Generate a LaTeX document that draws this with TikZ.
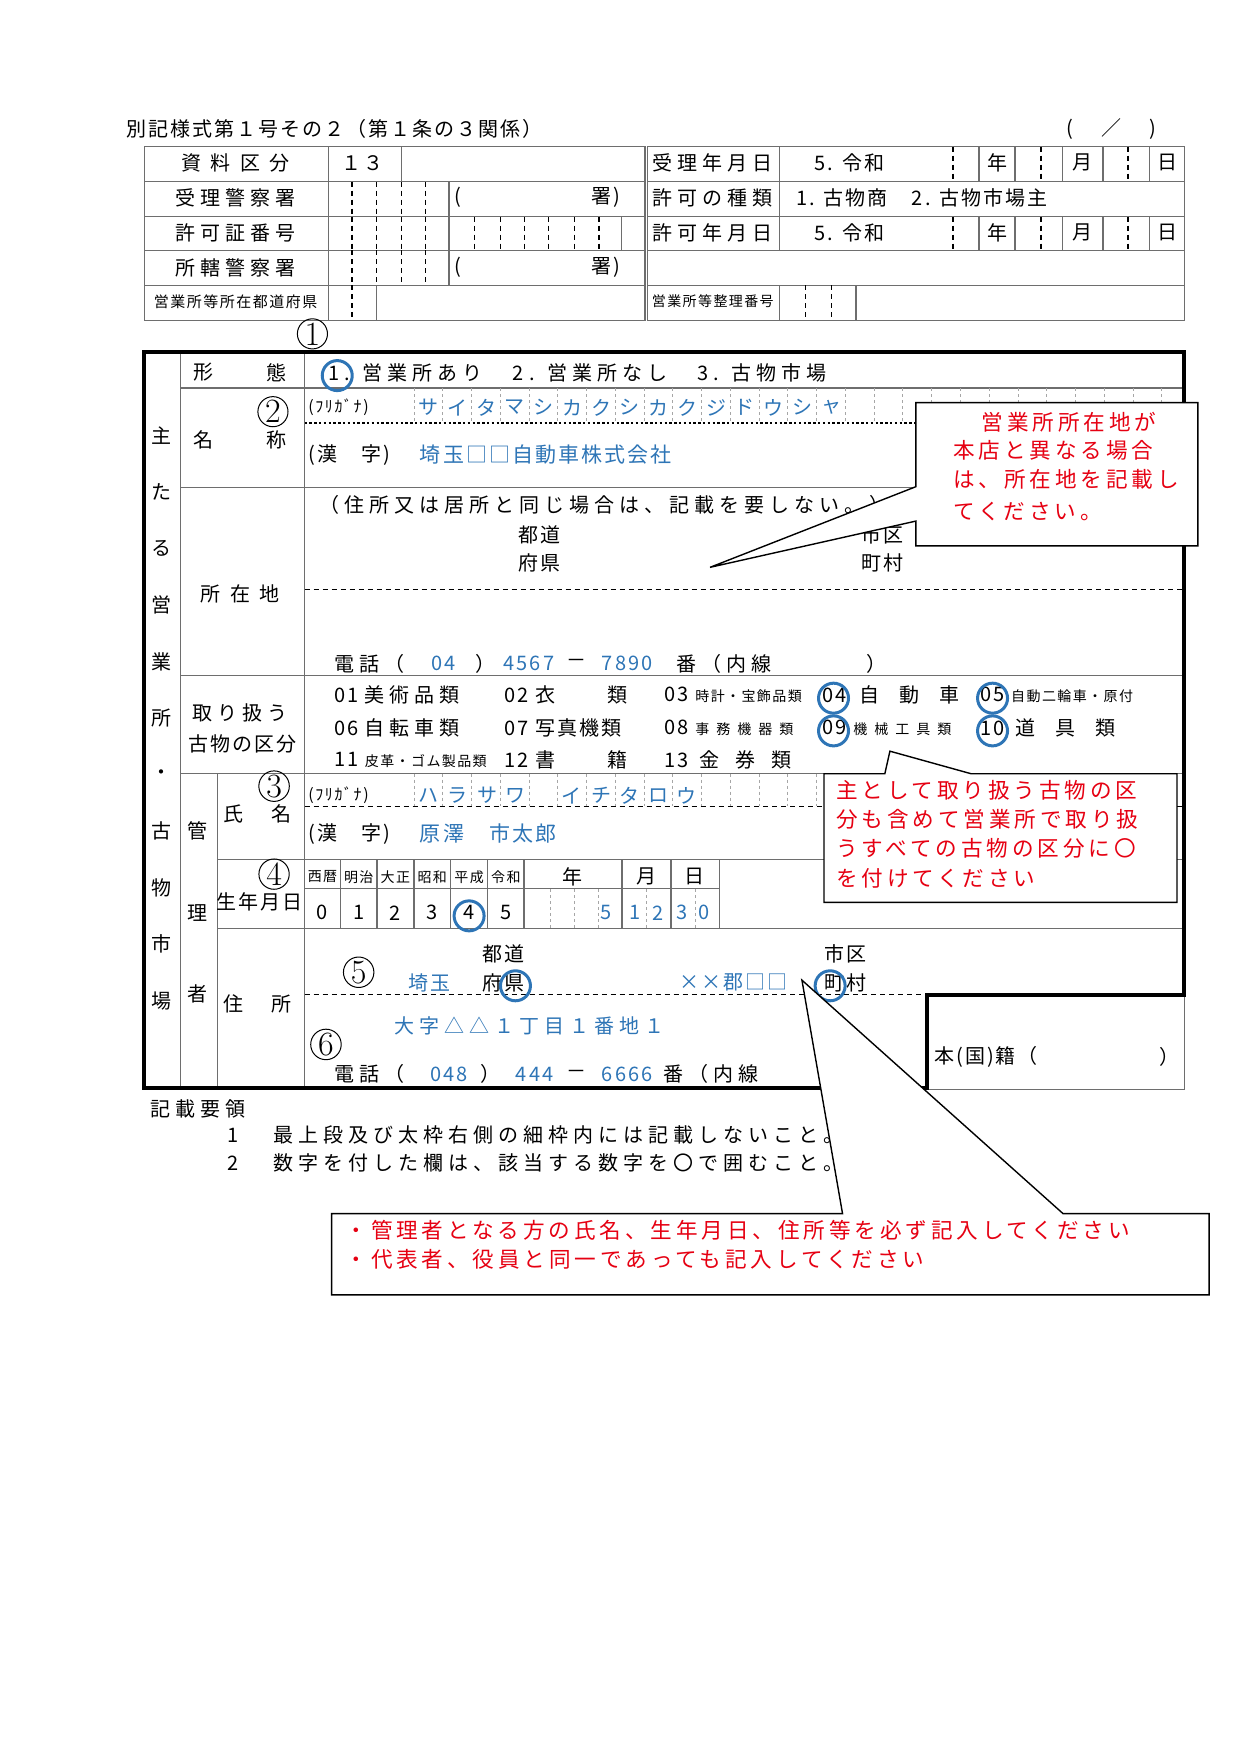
\documentclass[tikz,border=0pt]{standalone}
\usepackage{fontspec}
\setmainfont{Noto Sans CJK JP}
\newfontfamily\jpsp{Noto Sans CJK JP}[LetterSpace=25]
\newfontfamily\jpsm{Noto Sans CJK JP}[LetterSpace=10]
\newfontfamily\jpnote{Noto Sans CJK JP}[LetterSpace=18]
\definecolor{fillblue}{RGB}{46,117,182}
\definecolor{notered}{RGB}{230,0,18}
\definecolor{gridgray}{RGB}{110,110,110}
\tikzset{
  grid/.style={draw=gridgray, line width=0.7pt},
  dgrid/.style={draw=black, dash pattern=on 2.5pt off 2pt, line width=0.6pt},
  kana/.style={draw=gray!70, dash pattern=on 1.5pt off 1.5pt, line width=0.4pt},
  heavy/.style={draw=black, line width=2pt},
  lbl/.style={inner sep=0pt, yshift=1.5pt},
  txt/.style={inner sep=0pt, anchor=west, yshift=1.5pt},
  fill in/.style={txt, text=fillblue},
  ring/.style={circle, draw=fillblue, line width=1.5pt, minimum size=15pt, inner sep=0pt},
  num/.style={circle, draw, line width=0.5pt, inner sep=0.5pt, font=\fontspec{Latin Modern Roman}\fontsize{17}{17}\selectfont},
  note/.style={draw=black, line width=0.7pt, fill=white},
  notetext/.style={txt, text=notered, font=\jpnote\fontsize{10.8}{13}\selectfont}
}
\begin{document}
\begin{tikzpicture}[x=0.564pt, y=-0.564pt, font=\jpsm\fontsize{10}{12}\selectfont]
\useasboundingbox (0,0) rectangle (1100,1556);
% title
\node[txt] (title) at (112,117) {別記様式第１号その２（第１条の３関係）};
\node[txt] (slash) at (945,117) {(\hspace{14pt}／\hspace{14pt})};
% upper table
\draw[grid] (128,130) rectangle (572,284) (574,130) rectangle (1050,284);
\foreach \y in {161,192,222,253} \draw[grid] (128,\y) -- (572,\y) (574,\y) -- (1050,\y);
\draw[grid] (291,130) -- (291,284) (356,130) -- (356,161);
\foreach \y/\z in {161/192,192/222,222/253} {
  \foreach \x in {312,334,356,377} \draw[dgrid] (\x,\y) -- (\x,\z);
  \draw[grid] (398,\y) -- (398,\z);
}
\foreach \x in {421,444,465,486,509,531} \draw[dgrid] (\x,192) -- (\x,222);
\draw[grid] (551,192) -- (551,222);
\draw[dgrid] (312,253) -- (312,284);
\draw[grid] (334,253) -- (334,284);
\draw[grid] (691,130) -- (691,222) (691,253) -- (691,284);
\foreach \y/\z in {130/161,192/222} {
  \foreach \x in {845,923,1000} \draw[dgrid] (\x,\y) -- (\x,\z);
  \foreach \x in {868,900,942,978,1019} \draw[grid] (\x,\y) -- (\x,\z);
}
\draw[dgrid] (714,253) -- (714,284) (737,253) -- (737,284);
\draw[grid] (759,253) -- (759,284);
% upper table texts
\node[lbl] (shiryo) at (209,147) {\jpsp 資 料 区 分};
\node[txt] (kubun) at (302,147) {１３};
\node[lbl] (juri) at (209,178) {\jpsp 受理警察署};
\node[txt] (p1) at (403,178) {(};
\node[txt] (s1) at (524,178) {署)};
\node[lbl] (kyoka) at (209,209) {\jpsp 許可証番号};
\node[lbl] (shokatsu) at (209,240) {\jpsp 所轄警察署};
\node[txt] (p2) at (403,240) {(};
\node[txt] (s2) at (524,240) {署)};
\node[lbl] (todo) at (209,270) {\fontsize{7.5}{9}\selectfont 営業所等所在都道府県};
\node[lbl] (jurid) at (632,147) {\jpsp 受理年月日};
\node[txt] (rw1) at (722,147) {5. 令和};
\node[lbl] (kind) at (632,178) {\jpsp 許可の種類};
\node[txt] (kinds) at (706,178) {1. 古物商　2. 古物市場主};
\node[lbl] (kyokad) at (632,209) {\jpsp 許可年月日};
\node[txt] (rw2) at (722,209) {5. 令和};
\foreach \y/\n in {147/a,209/b} {
  \node[lbl] (nen\n) at (884,\y) {年};
  \node[lbl] (tsuki\n) at (960,\y) {月};
  \node[lbl] (hi\n) at (1035,\y) {日};
}
\node[lbl] (seiri) at (632,270) {\fontsize{7}{9}\selectfont 営業所等整理番号};
\node[num] (c1) at (277,296) {1};
% main frame
\draw[grid] (160,312) -- (160,965) (270,312) -- (270,965) (193,686) -- (193,965);
\foreach \y in {344,432,599,686} \draw[grid] (160,\y) -- (1050,\y);
\foreach \y in {762,823} \draw[grid] (193,\y) -- (1050,\y);
\draw[dgrid, dash pattern=on 1.2pt off 1.2pt, line width=1pt] (270,374.7) -- (1050,374.7);
\draw[dgrid, line width=0.5pt] (270,523) -- (1050,523) (270,715) -- (1050,715) (270,881.5) -- (822,881.5);
\foreach \k in {0,...,26} {
  \draw[kana] (367+25.5*\k,344) -- (367+25.5*\k,374);
  \draw[kana] (367+25.5*\k,686) -- (367+25.5*\k,715);
}
% birth date grid
\foreach \x in {301.8,334.4,366.9,399.6,432.2,551.5,595,638} \draw[grid] (\x,762) -- (\x,823);
\draw[grid, line width=1.2pt] (464.8,762) -- (464.8,823);
\draw[grid] (270,788) -- (638,788);
\foreach \x in {487.6,509,530.6,573,616.7} \draw[kana] (\x,788) -- (\x,823);
\draw[grid] (822,882) rectangle (1050,966);
\draw[heavy] (128,312) -- (1050,312) -- (1050,882) -- (822,882) -- (822,965) -- (128,965) -- cycle;
% side labels
\foreach \c [count=\i] in {主,た,る,営,業,所,・,古,物,市,場}
  \node[lbl] (side\i) at (143,389+50.1*\i-50.1) {\c};
\node[lbl] (kan) at (175,739) {管};
\node[lbl] (ri) at (175,812) {理};
\node[lbl] (sha) at (175,884) {者};
\node[txt] (kei) at (171,333) {形};
\node[txt] (tai) at (236,333) {態};
\node[txt] (mei) at (171,393) {名};
\node[txt] (sho) at (236,393) {称};
\node[lbl] (shozai) at (213,529) {\jpsp 所 在 地};
\node[lbl] (toriatsu) at (213,635) {\jpsp 取り扱う};
\node[lbl] (kobutsu) at (215,662) {古物の区分};
\node[txt] (shi) at (198,724) {氏};
\node[txt] (mei2) at (240,724) {名};
\node[lbl] (seinen) at (230,802) {生年月日};
\node[txt] (ju) at (198,893) {住};
\node[txt] (sho2) at (240,893) {所};
% row contents
\node[txt] (keitai) at (291,333) {\jpsp 1. 営業所あり　2. 営業所なし　3. 古物市場};
\node[ring] (r1) at (299,333) {};
\node[num] (c2) at (242,365) {2};
\node[txt] (furi1) at (273,364) {\fontsize{8}{9}\selectfont (ﾌﾘｶﾞﾅ)};
\foreach \c [count=\i] in {サ,イ,タ,マ,シ,カ,ク,シ,カ,ク,ジ,ド,ウ,シ,ャ}
  \node[lbl, text=fillblue] (kn\i) at (380+25.5*\i-25.5,364) {\c};
\node[txt] (kanji1) at (273,406) {(漢　字)};
\node[fill in] (meisho) at (372,406) {\jpsm\fontsize{10.5}{12}\selectfont 埼玉□□自動車株式会社};
\node[txt] (dou) at (283,450) {\jpsp（住所又は居所と同じ場合は、記載を要しない。）};
\node[lbl] (todo1) at (478,477) {都道};
\node[lbl] (fuken1) at (478,502) {府県};
\node[lbl] (shiku1) at (782,477) {市区};
\node[lbl] (chou1) at (782,502) {町村};
\node[txt] (tel1) at (296,591) {\jpsp 電話（};
\node[lbl, text=fillblue] (t1a) at (393,591) {04};
\node[lbl] (t1b) at (430,591) {）};
\node[lbl, text=fillblue] (t1c) at (469,591) {4567};
\node[lbl] (t1d) at (511,591) {－};
\node[lbl, text=fillblue] (t1e) at (556,591) {7890};
\node[txt] (t1f) at (599,591) {\jpsp 番（内線};
\node[lbl] (t1g) at (777,591) {）};
% categories
\node[txt] (k01) at (296,619) {01 \jpsp 美術品類};
\node[txt] (k02) at (447,619) {02 \jpsp 衣\hspace{2.6em}類};
\node[txt] (k03) at (589,619) {03 \fontsize{7}{8}\selectfont 時計・宝飾品類};
\node[txt] (k04) at (729,619) {04 \hspace{0.3em}自\hspace{1em}動\hspace{1em}車};
\node[txt] (k05) at (869,619) {05 \fontsize{7}{8}\selectfont 自動二輪車・原付};
\node[txt] (k06) at (296,648) {06 \jpsp 自転車類};
\node[txt] (k07) at (447,648) {07 写真機類};
\node[txt] (k08) at (589,648) {08 \fontsize{7}{8}\selectfont 事\hspace{0.5em}務\hspace{0.5em}機\hspace{0.5em}器\hspace{0.5em}類};
\node[txt] (k09) at (729,648) {09 \fontsize{7}{8}\selectfont 機\hspace{0.5em}械\hspace{0.5em}工\hspace{0.5em}具\hspace{0.5em}類};
\node[txt] (k10) at (869,648) {10 \hspace{0.2em}道\hspace{1em}具\hspace{1em}類};
\node[txt] (k11) at (296,676) {11 \fontsize{7}{8}\selectfont 皮革・ゴム製品類};
\node[txt] (k12) at (447,676) {12 \jpsp 書\hspace{2.6em}籍};
\node[txt] (k13) at (589,676) {13 \hspace{0.2em}金\hspace{0.8em}券\hspace{0.8em}類};
\node[ring] (r04) at (739,619) {};
\node[ring] (r05) at (880,619) {};
\node[ring] (r09) at (739,648) {};
\node[ring] (r10) at (880,648) {};
% manager
\node[num] (c3) at (243,697) {3};
\node[txt] (furi2) at (273,708) {\fontsize{8}{9}\selectfont (ﾌﾘｶﾞﾅ)};
\foreach \c/\x in {ハ/380,ラ/406,サ/432,ワ/457,イ/507,チ/533,タ/558,ロ/584,ウ/609}
  \node[lbl, text=fillblue] (kk\x) at (\x,708) {\c};
\node[txt] (kanji2) at (273,742) {(漢　字)};
\node[fill in] (shimei) at (372,742) {\fontsize{10.5}{12}\selectfont 原澤　市太郎};
\node[num] (c4) at (243,775) {4};
\foreach \g/\x [count=\i] in {西暦/285.9,明治/318.1,大正/350.6,昭和/383.2,平成/415.9,令和/448.5}
  \node[lbl] (era\i) at (\x,780) {\fontsize{7}{8}\selectfont \g};
\foreach \x [count=\i from 0] in {285.9,318.1,350.6,383.2,415.9,448.5}
  \node[lbl] (eno\i) at (\x,812) {\i};
\node[ring] (r4) at (415.9,812) {};
\node[lbl] (bnen) at (508,780) {年};
\node[lbl] (btsuki) at (573,780) {月};
\node[lbl] (bhi) at (616,780) {日};
\foreach \c/\x in {5/537,1/563,2/583,3/605,0/624}
  \node[lbl, text=fillblue] (bd\x) at (\x,812) {\c};
\node[num] (c5) at (318,862) {5};
\node[lbl] (todo2) at (446,848) {都道};
\node[lbl] (fuken2) at (446,874) {府県};
\node[lbl, text=fillblue] (pref) at (381,874) {埼玉};
\node[ring] (rken) at (457,874) {};
\node[lbl, text=fillblue] (gun) at (650,874) {××郡□□};
\node[lbl] (shiku2) at (750,848) {市区};
\node[lbl] (chou2) at (750,874) {町村};
\node[ring] (rchou) at (736,874) {};
\node[num] (c6) at (289,926) {6};
\node[fill in] (banchi) at (349,912) {\jpsp 大字△△１丁目１番地１};
\node[txt] (tel2) at (296,955) {\jpsp 電話（};
\node[lbl, text=fillblue] (t2a) at (398,955) {048};
\node[lbl] (t2b) at (435,955) {）};
\node[lbl, text=fillblue] (t2c) at (474,955) {444};
\node[lbl] (t2d) at (511,955) {－};
\node[lbl, text=fillblue] (t2e) at (556,955) {6666};
\node[txt] (t2f) at (588,955) {\jpsp 番（内線};
\node[txt] (honseki) at (828,940) {本(国)籍（};
\node[lbl] (hclose) at (1037,940) {）};
% instructions
\node[txt] (yoryo) at (133,986) {\jpsp 記載要領};
\node[lbl] (y1n) at (207,1009) {1};
\node[txt] (y1) at (242,1009) {\jpsp 最上段及び太枠右側の細枠内には記載しないこと。};
\node[lbl] (y2n) at (207,1034) {2};
\node[txt] (y2) at (242,1034) {\jpsp 数字を付した欄は、該当する数字を〇で囲むこと。};
% callouts
\draw[note] (812,357) -- (1062,357) -- (1062,484) -- (812,484) -- (812,462) -- (629.5,503) -- (812,431.5) -- cycle;
\node[notetext] (n1a) at (870,377) {営業所所在地が};
\node[notetext] (n1b) at (845,402) {本店と異なる場合};
\node[notetext] (n1c) at (845,428) {は、所在地を記載し};
\node[notetext] (n1d) at (845,456) {てください。};
\draw[note] (730.6,686) -- (784.5,686) -- (789,666) -- (861,686) -- (1043.5,686) -- (1043.5,800) -- (730.6,800) -- cycle;
\node[notetext] (n2a) at (741,703) {主として取り扱う古物の区};
\node[notetext] (n2b) at (741,729) {分も含めて営業所で取り扱};
\node[notetext] (n2c) at (741,755) {うすべての古物の区分に〇};
\node[notetext] (n2d) at (741,781) {を付けてください};
\coordinate (tip3) at (711,869);
\draw[note] (294,1076) -- (747,1076) -- (tip3) -- (942.5,1076) -- (1072,1076) -- (1072,1148) -- (294,1148) -- cycle;
\node[notetext] (n3a) at (306,1093) {・管理者となる方の氏名、生年月日、住所等を必ず記入してください};
\node[notetext] (n3b) at (306,1119) {・代表者、役員と同一であっても記入してください};
\end{tikzpicture}
\end{document}
